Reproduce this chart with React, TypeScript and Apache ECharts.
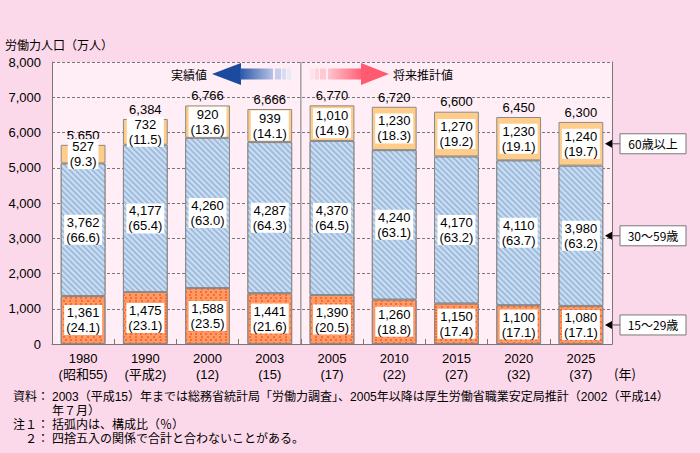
import React, { useEffect, useRef } from 'react';
import * as echarts from 'echarts';

const years = ['1980', '1990', '2000', '2003', '2005', '2010', '2015', '2020', '2025'];
const eras = ['(昭和55)', '(平成2)', '(12)', '(15)', '(17)', '(22)', '(27)', '(32)', '(37)'];
const age15to29 = [1361, 1475, 1588, 1441, 1390, 1260, 1150, 1100, 1080];
const share15to29 = ['24.1', '23.1', '23.5', '21.6', '20.5', '18.8', '17.4', '17.1', '17.1'];
const age30to59 = [3762, 4177, 4260, 4287, 4370, 4240, 4170, 4110, 3980];
const share30to59 = ['66.6', '65.4', '63.0', '64.3', '64.5', '63.1', '63.2', '63.7', '63.2'];
const age60plus = [527, 732, 920, 939, 1010, 1230, 1270, 1230, 1240];
const share60plus = ['9.3', '11.5', '13.6', '14.1', '14.9', '18.3', '19.2', '19.1', '19.7'];
const totals = [5650, 6384, 6766, 6666, 6770, 6720, 6600, 6450, 6300];
const seriesNames = ['15～29歳', '30～59歳', '60歳以上'];
const annotationLabels = ['15～29歳', '30～59歳', '60歳以上'];
const yMin = 0;
const yMax = 8000;
const yInterval = 1000;

const FONT = '"Noto Sans CJK JP", "Noto Sans", sans-serif';
const NUMFONT = '"Liberation Sans", "Noto Sans CJK JP", sans-serif';
const fmt = (v: number) => v.toLocaleString('en-US');

const GRID_LEFT = 52;
const GRID_RIGHT = 88;
const GRID_TOP = 62;
const GRID_BOTTOM = 109;
const W = 700;

export default function App() {
  const ref = useRef<HTMLDivElement>(null);

  useEffect(() => {
    if (!ref.current) return;
    const chart = echarts.init(ref.current, null, { renderer: 'svg' });

    const segLabel = (shares: string[]) => ({
      show: true,
      position: 'inside',
      color: '#000',
      fontFamily: NUMFONT,
      fontSize: 13,
      lineHeight: 15,
      backgroundColor: '#fff',
      padding: [0, 2, 0, 2],
      formatter: (p: any) => `${fmt(p.value)}\n(${shares[p.dataIndex]})`,
    });

    const option: any = {
      animation: false,
      backgroundColor: '#FCD9EA',
      textStyle: { fontFamily: FONT },
      grid: {
        left: GRID_LEFT,
        right: GRID_RIGHT,
        top: GRID_TOP,
        bottom: GRID_BOTTOM,
        show: true,
        backgroundColor: '#FFEEF6',
        borderWidth: 0,
      },
      xAxis: {
        type: 'category',
        data: years,
        axisLine: { show: true, lineStyle: { color: '#777' } },
        axisTick: { show: true, inside: true, length: 5, lineStyle: { color: '#777' } },
        axisLabel: {
          interval: 0,
          color: '#000',
          fontFamily: NUMFONT,
          fontSize: 13,
          lineHeight: 16,
          margin: 6,
          formatter: (v: string, i: number) => `${v}\n${eras[i]}`,
        },
      },
      yAxis: [
        {
          type: 'value',
          min: yMin,
          max: yMax,
          interval: yInterval,
          axisLine: { show: true, lineStyle: { color: '#777' } },
          axisTick: { show: false },
          axisLabel: {
            color: '#000',
            fontFamily: NUMFONT,
            fontSize: 13,
            margin: 11,
            formatter: (v: number) => fmt(v),
          },
          splitLine: { show: true, lineStyle: { color: '#777', type: [3, 2], width: 1 } },
        },
        {
          type: 'value',
          position: 'right',
          min: yMin,
          max: yMax,
          interval: yInterval,
          axisLine: { show: true, lineStyle: { color: '#777' } },
          axisTick: { show: false },
          axisLabel: { show: false },
          splitLine: { show: false },
        },
      ],
      series: [
        {
          name: '合計',
          type: 'bar',
          data: totals,
          barGap: '-100%',
          barCategoryGap: '28%',
          itemStyle: { color: 'rgba(0,0,0,0)' },
          label: {
            show: true,
            position: 'top',
            distance: 3,
            color: '#000',
            fontFamily: NUMFONT,
            fontSize: 13,
            formatter: (p: any) => fmt(p.value),
          },
          z: 1,
        },
        {
          name: seriesNames[0],
          type: 'bar',
          stack: 'total',
          data: age15to29,
          barGap: '-100%',
          barCategoryGap: '28%',
          itemStyle: {
            color: '#FF9966',
            borderColor: '#8a8a8a',
            borderWidth: 1,
            decal: {
              symbol: 'rect',
              symbolSize: 1,
              color: '#FF6A2A',
              dashArrayX: [[2, 3], [0, 2.5, 2, 0.5]],
              dashArrayY: [2, 1],
            },
          },
          label: segLabel(share15to29),
          z: 2,
        },
        {
          name: seriesNames[1],
          type: 'bar',
          stack: 'total',
          data: age30to59,
          barGap: '-100%',
          barCategoryGap: '28%',
          itemStyle: {
            color: '#9DBDE0',
            borderColor: '#8a8a8a',
            borderWidth: 1,
            decal: {
              symbol: 'rect',
              symbolSize: 1,
              color: 'rgba(255,255,255,0.5)',
              dashArrayX: [1, 0],
              dashArrayY: [1.5, 1.5],
              rotation: Math.PI / 4,
            },
          },
          label: segLabel(share30to59),
          z: 2,
        },
        {
          name: seriesNames[2],
          type: 'bar',
          stack: 'total',
          data: age60plus,
          barGap: '-100%',
          barCategoryGap: '28%',
          itemStyle: { color: '#FFCC8A', borderColor: '#8a8a8a', borderWidth: 1 },
          label: segLabel(share60plus),
          z: 2,
        },
      ],
    };

    chart.setOption(option);

    const px = (i: number, v: number) => chart.convertToPixel({ gridIndex: 0 }, [i, v]) as number[];
    const plotRight = W - GRID_RIGHT;
    const plotBottom = px(0, yMin)[1];
    const plotTop = px(0, yMax)[1];
    const dividerX = (px(3, 0)[0] + px(4, 0)[0]) / 2;

    const last = years.length - 1;
    const centers = [
      age15to29[last] / 2,
      age15to29[last] + age30to59[last] / 2,
      age15to29[last] + age30to59[last] + age60plus[last] / 2,
    ];

    const graphics: any[] = [];
    graphics.push({
      type: 'line',
      shape: { x1: dividerX, y1: plotTop, x2: dividerX, y2: plotBottom },
      style: { stroke: '#777', lineWidth: 1 },
      z: 5,
    });

    graphics.push({
      type: 'text',
      x: 5,
      y: 44,
      style: { text: '労働力人口（万人）', font: `12px ${FONT}`, fill: '#000', textVerticalAlign: 'middle' },
    });

    const ly = 74;
    graphics.push({
      type: 'text',
      x: 207,
      y: ly,
      style: { text: '実績値', font: `12px ${FONT}`, fill: '#000', textAlign: 'right', textVerticalAlign: 'middle' },
    });
    graphics.push({
      type: 'polygon',
      shape: { points: [[212, ly], [241, ly - 11], [241, ly + 11]] },
      style: { fill: '#1B4A9E' },
    });
    graphics.push({
      type: 'rect',
      shape: { x: 240, y: ly - 5.5, width: 33, height: 11 },
      style: {
        fill: new echarts.graphic.LinearGradient(0, 0, 1, 0, [
          { offset: 0, color: '#2A57A8' },
          { offset: 1, color: '#B7C3E6' },
        ]),
      },
    });
    graphics.push({ type: 'rect', shape: { x: 275, y: ly - 5.5, width: 6, height: 11 }, style: { fill: '#C4CDEB' } });
    graphics.push({ type: 'rect', shape: { x: 282, y: ly - 5.5, width: 4, height: 11 }, style: { fill: '#D6DCF1' } });
    graphics.push({ type: 'rect', shape: { x: 287, y: ly - 5.5, width: 4, height: 11 }, style: { fill: '#E6E9F6' } });

    graphics.push({ type: 'rect', shape: { x: 310, y: ly - 5.5, width: 4, height: 11 }, style: { fill: '#FFE2E8' } });
    graphics.push({ type: 'rect', shape: { x: 315, y: ly - 5.5, width: 4, height: 11 }, style: { fill: '#FFD5DD' } });
    graphics.push({ type: 'rect', shape: { x: 320, y: ly - 5.5, width: 6, height: 11 }, style: { fill: '#FFC8D2' } });
    graphics.push({
      type: 'rect',
      shape: { x: 328, y: ly - 5.5, width: 34, height: 11 },
      style: {
        fill: new echarts.graphic.LinearGradient(0, 0, 1, 0, [
          { offset: 0, color: '#FFC4CE' },
          { offset: 1, color: '#FF6076' },
        ]),
      },
    });
    graphics.push({
      type: 'polygon',
      shape: { points: [[361, ly - 11], [389, ly], [361, ly + 11]] },
      style: { fill: '#FF5A70' },
    });
    graphics.push({
      type: 'text',
      x: 393,
      y: ly,
      style: { text: '将来推計値', font: `12px ${FONT}`, fill: '#000', textVerticalAlign: 'middle' },
    });

    centers.forEach((v, k) => {
      const cy = px(last, v)[1];
      graphics.push({
        type: 'line',
        shape: { x1: plotRight - 1, y1: cy, x2: plotRight + 8, y2: cy },
        style: { stroke: '#555', lineWidth: 1 },
        z: 10,
      });
      graphics.push({
        type: 'polygon',
        shape: { points: [[plotRight - 7, cy], [plotRight, cy - 4], [plotRight, cy + 4]] },
        style: { fill: '#000' },
        z: 10,
      });
      graphics.push({
        type: 'rect',
        shape: { x: plotRight + 8, y: cy - 10, width: 66, height: 20 },
        style: { fill: '#fff', stroke: '#777', lineWidth: 1 },
        z: 10,
      });
      graphics.push({
        type: 'text',
        x: plotRight + 41,
        y: cy,
        style: {
          text: annotationLabels[k],
          font: `12px ${FONT}`,
          fill: '#000',
          textAlign: 'center',
          textVerticalAlign: 'middle',
        },
        z: 11,
      });
    });

    graphics.push({
      type: 'text',
      x: plotRight + 2,
      y: plotBottom + 29,
      style: { text: '(年)', font: `13px ${FONT}`, fill: '#000', textVerticalAlign: 'middle' },
    });

    const notes: [string, number, string, number][] = [
      ['資料：', 13, '2003（平成15）年までは総務省統計局「労働力調査」、2005年以降は厚生労働省職業安定局推計（2002（平成14）', 397],
      ['', 13, '年７月）', 411],
      ['注１：', 13, '括弧内は、構成比（％）', 425],
      ['２：', 25, '四捨五入の関係で合計と合わないことがある。', 439],
    ];
    notes.forEach(([head, hx, body, y]) => {
      if (head) {
        graphics.push({
          type: 'text',
          x: hx,
          y,
          style: { text: head, font: `12px ${NUMFONT}`, fill: '#000', textVerticalAlign: 'middle' },
        });
      }
      graphics.push({
        type: 'text',
        x: 52,
        y,
        style: { text: body, font: `12px ${NUMFONT}`, fill: '#000', textVerticalAlign: 'middle' },
      });
    });

    chart.setOption({ graphic: graphics });

    return () => chart.dispose();
  }, []);

  return (
    <div
      ref={ref}
      style={{ position: 'fixed', left: 0, top: 0, width: 700, height: 453 }}
    />
  );
}
